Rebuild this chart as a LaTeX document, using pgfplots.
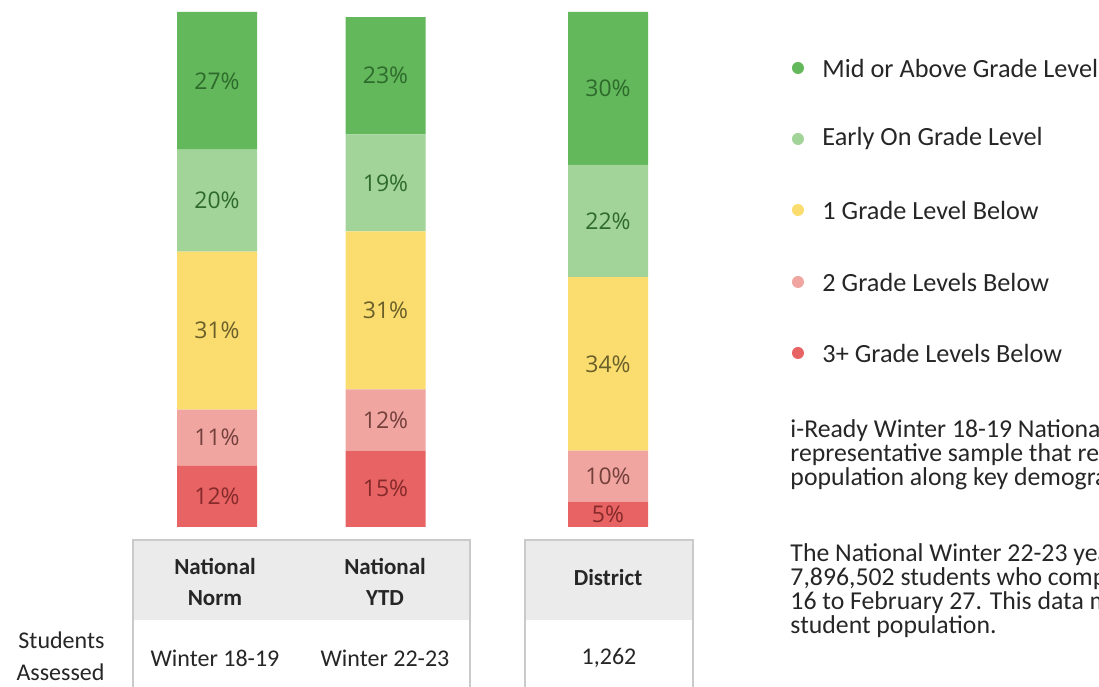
\documentclass[border=0pt]{standalone}
\usepackage{fontspec}
\setmainfont{Carlito}
\newfontfamily\labelfont{Open Sans}
\usepackage{pgfplots}
\usepackage{pgfplotstable}
\pgfplotsset{compat=1.18}

\definecolor{cMid}{HTML}{62B85A}
\definecolor{cEarly}{HTML}{A2D398}
\definecolor{cOne}{HTML}{FADD6E}
\definecolor{cTwo}{HTML}{F0A5A0}
\definecolor{cThree}{HTML}{E86464}
\definecolor{tGreen}{HTML}{2E6A2C}
\definecolor{tYellow}{HTML}{6A5E2A}
\definecolor{tPink}{HTML}{74403C}
\definecolor{tRed}{HTML}{86292A}
\definecolor{rule}{HTML}{CACACA}
\definecolor{head}{HTML}{EBEBEB}
\definecolor{txt}{HTML}{262626}

% x = pixel centre of each bar
\pgfplotstableread{
x      three two one early mid
217    12    11  31  20    27
385.5  15    12  31  19    23
608    5     10  34  22    30
}\levels

\begin{document}
\begin{tikzpicture}
\useasboundingbox (0,0) rectangle (439.6pt,-274.8pt);
\clip (0,0) rectangle (439.6pt,-274.8pt);

\begin{axis}[
  at={(0pt,-210.8pt)}, anchor=south west,
  width=439.6pt, height=206pt, scale only axis,
  xmin=0, xmax=1099, ymin=0, ymax=101,
  hide axis, clip=false,
  ybar stacked, bar width=32pt,
  point meta=explicit symbolic,
  nodes near coords={\pgfplotspointmeta\%},
  nodes near coords style={anchor=center,
    font=\labelfont\fontsize{9.2}{10}\selectfont},
]
\addplot[fill=cThree, draw=none, nodes near coords style={text=tRed}]
  table[x=x, y=three, meta=three] {\levels};
\addplot[fill=cTwo, draw=none, nodes near coords style={text=tPink}]
  table[x=x, y=two, meta=two] {\levels};
\addplot[fill=cOne, draw=none, nodes near coords style={text=tYellow}]
  table[x=x, y=one, meta=one] {\levels};
\addplot[fill=cEarly, draw=none, nodes near coords style={text=tGreen}]
  table[x=x, y=early, meta=early] {\levels};
\addplot[fill=cMid, draw=none, nodes near coords style={text=tGreen}]
  table[x=x, y=mid, meta=mid] {\levels};
\end{axis}

\begin{scope}[x=0.4pt,y=-0.4pt]
% legend
\begin{scope}[every node/.style={anchor=west, inner sep=0pt, font=\fontsize{10.5}{12}\selectfont, text=txt}]
\fill[cMid]   (798,68)  circle (2.4pt); \node at (822,68)  {Mid or Above Grade Level};
\fill[cEarly] (798,139) circle (2.4pt); \node at (822,139) {Early On Grade Level};
\fill[cOne]   (798,210) circle (2.4pt); \node at (822,210) {1 Grade Level Below};
\fill[cTwo]   (798,282) circle (2.4pt); \node at (822,282) {2 Grade Levels Below};
\fill[cThree] (798,353) circle (2.4pt); \node at (822,353) {3+ Grade Levels Below};
\end{scope}

% notes
\begin{scope}[every node/.style={anchor=base west, inner sep=0pt, font=\fontsize{10.3}{12}\selectfont, text=txt}]
\node at (790,438) {i-Ready Winter 18-19 National Norms are based on a};
\node at (790,462) {representative sample that reflects the national student};
\node at (790,486) {population along key demographic variables.};
\node at (790,562) {The National Winter 22-23 year-to-date data includes};
\node at (790,586) {7,896,502 students who completed a diagnostic from January};
\node at (790,610) {16 to February 27. This data may not be representative of the};
\node at (790,634) {student population.};
\end{scope}

% table
\fill[head] (133,540) rectangle (470,620);
\fill[head] (525,540) rectangle (693,620);
\draw[rule, line width=0.8pt] (133,700) -- (133,540) -- (470,540) -- (470,700);
\draw[rule, line width=0.8pt] (525,700) -- (525,540) -- (693,540) -- (693,700);
\begin{scope}[every node/.style={inner sep=0pt, font=\fontsize{9.2}{11}\selectfont\bfseries, text=txt}]
\node at (215,567) {National};
\node at (215,598) {Norm};
\node at (385,567) {National};
\node at (385,598) {YTD};
\node at (608,578) {District};
\end{scope}
\begin{scope}[every node/.style={inner sep=0pt, font=\fontsize{9.6}{11}\selectfont, text=txt}]
\node at (215,658) {Winter 18-19};
\node at (385,658) {Winter 22-23};
\node at (609,658) {1,262};
\node[anchor=east] at (105,640) {Students};
\node[anchor=east] at (105,672) {Assessed};
\end{scope}
\end{scope}
\end{tikzpicture}
\end{document}
